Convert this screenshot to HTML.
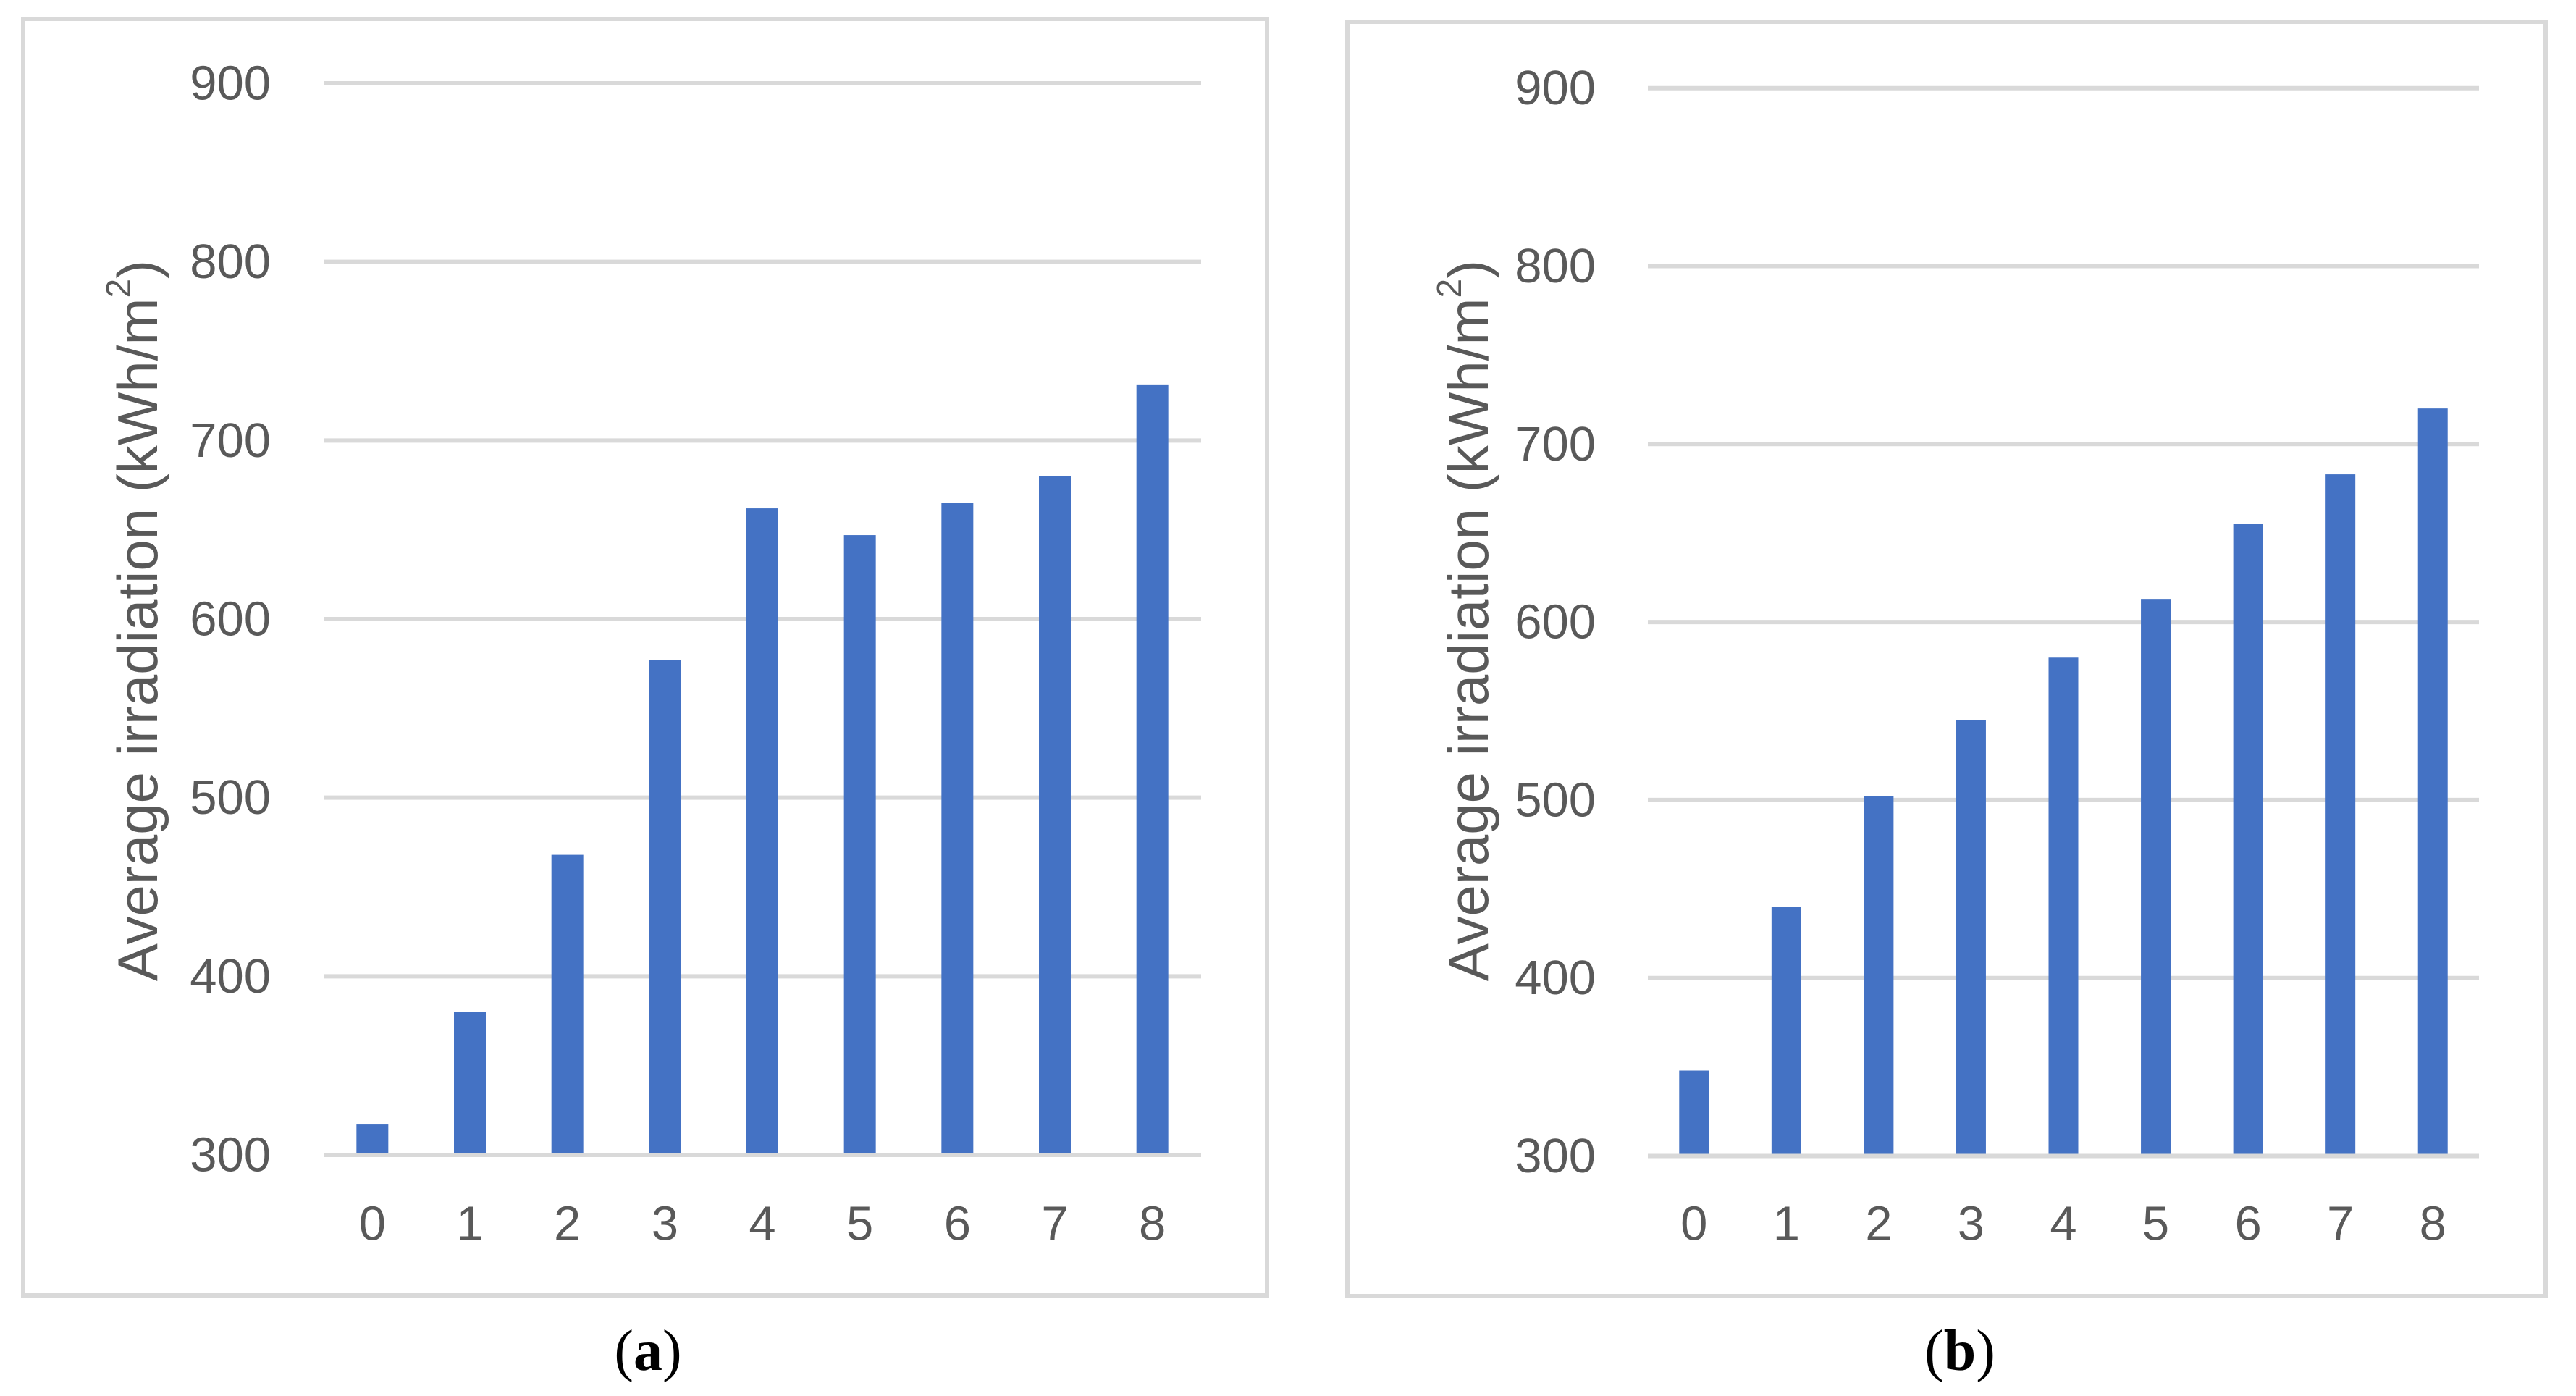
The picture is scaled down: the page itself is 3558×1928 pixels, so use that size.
<!DOCTYPE html>
<html><head><meta charset="utf-8"><style>
html,body{margin:0;padding:0;background:#fff;}
svg{display:block;}
</style></head><body>
<svg id="chart" width="3558" height="1928" viewBox="0 0 3558 1928" xmlns="http://www.w3.org/2000/svg"></svg>
<script>
const categories = ['0','1','2','3','4','5','6','7','8'];
const seriesA = [317, 380, 468, 577, 662, 647, 665, 680, 731];
const seriesB = [348, 440, 502, 545, 580, 613, 655, 683, 720];
const yTicks = [300, 400, 500, 600, 700, 800, 900];
const yTitle = 'Average irradiation (kWh/m';
const captions = ['a', 'b'];

const NS = 'http://www.w3.org/2000/svg';
const svg = document.getElementById('chart');
function mk(tag, attrs, parent) {
  const e = document.createElementNS(NS, tag);
  for (const k in attrs) e.setAttribute(k, attrs[k]);
  (parent || svg).appendChild(e);
  return e;
}
const panels = [
  {key:'a', data: seriesA, box:[32,26,1750,1789], px0:447, px1:1659, y900:115, y300:1595, barW:44, labelRight:374, titleX:190, capX:895},
  {key:'b', data: seriesB, box:[1861,30,3516,1790], px0:2276, px1:3424, y900:121.7, y300:1596.5, barW:41, labelRight:2204, titleX:2028, capX:2707}
];
panels.forEach((p, pi) => {
  const g = mk('g', {});
  
  
  const border = mk('rect', {x:p.box[0], y:p.box[1], width:p.box[2]-p.box[0], height:p.box[3]-p.box[1], fill:'none', stroke:'#d9d9d9', 'stroke-width':6}, g);
  
  
  const yScale = v => p.y300 + (v - 300) * (p.y900 - p.y300) / 600;
  const band = (p.px1 - p.px0) / categories.length;
  const xScale = i => p.px0 + band * (i + 0.5);
  yTicks.forEach(t => {
    const y = yScale(t);
    const ln = mk('line', {x1:p.px0, x2:p.px1, y1:y, y2:y, stroke:'#d9d9d9', 'stroke-width':6}, g);
    
    
    const tx = mk('text', {x:p.labelRight, y:y, 'text-anchor':'end', 'dominant-baseline':'central', 'font-family':'Liberation Sans, sans-serif', 'font-size':67, fill:'#595959'}, g);
    tx.textContent = t;
    
    
  });
  p.data.forEach((v, i) => {
    const x = xScale(i);
    const top = yScale(v);
    const r = mk('rect', {x:x - p.barW/2, y:top, width:p.barW, height:yScale(300) - top - 3, fill:'#4472c4'}, g);
    
    
    const tx = mk('text', {x:x, y:1690, 'text-anchor':'middle', 'dominant-baseline':'central', 'font-family':'Liberation Sans, sans-serif', 'font-size':67, fill:'#595959'}, g);
    tx.textContent = categories[i];
    
    
  });
  const tt = mk('text', {x:0, y:0, 'text-anchor':'middle', 'dominant-baseline':'central', 'font-family':'Liberation Sans, sans-serif', 'font-size':78, fill:'#595959', transform:'translate(' + p.titleX + ',857) rotate(-90)'}, g);
  
  
  tt.appendChild(document.createTextNode(yTitle));
  const sup = mk('tspan', {'font-size':48, dy:-26}, tt);
  sup.textContent = '2';
  const cl = mk('tspan', {dy:26}, tt);
  cl.textContent = ')';
  const cap = mk('text', {x:p.capX, y:1866, 'text-anchor':'middle', 'dominant-baseline':'central', 'font-family':'Liberation Serif, serif', 'font-size':80, fill:'#000'}, g);
  
  
  cap.appendChild(document.createTextNode('('));
  const b = mk('tspan', {'font-weight':'bold'}, cap);
  b.textContent = captions[pi];
  cap.appendChild(document.createTextNode(')'));
});
</script>
</body></html>
